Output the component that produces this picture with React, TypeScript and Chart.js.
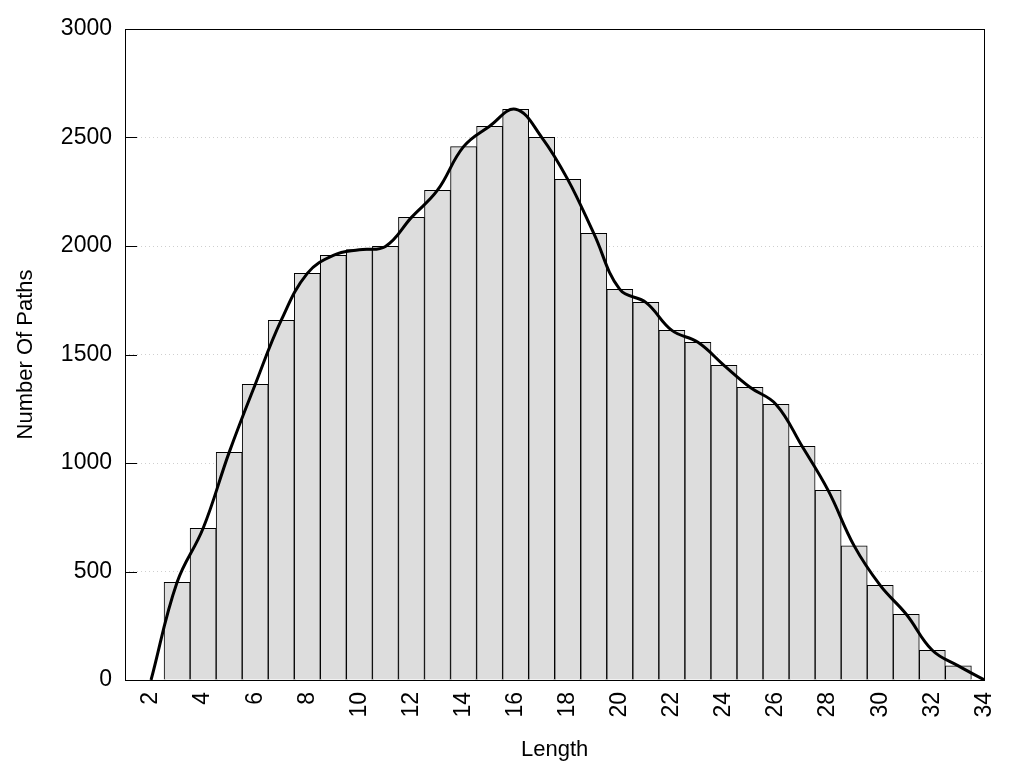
import React, { useEffect, useRef } from "react";
import { Chart, registerables } from "chart.js";

Chart.register(...registerables);

const barLengths: number[] = [3, 4, 5, 6, 7, 8, 9, 10, 11, 12, 13, 14, 15, 16, 17, 18, 19, 20, 21, 22, 23, 24, 25, 26, 27, 28, 29, 30, 31, 32, 33];
const barCounts: number[] = [450, 699, 1049, 1362, 1658, 1874, 1957, 1983, 1998, 2132, 2257, 2458, 2552, 2630, 2501, 2307, 2058, 1800, 1740, 1611, 1556, 1450, 1349, 1270, 1077, 874, 618, 436, 303, 137, 65];
const curveLengths: number[] = [2, ...barLengths, 34];
const curveCounts: number[] = [0, ...barCounts, 0];
const xTickValues: number[] = [2, 4, 6, 8, 10, 12, 14, 16, 18, 20, 22, 24, 26, 28, 30, 32, 34];
const yTickValues: number[] = [0, 500, 1000, 1500, 2000, 2500, 3000];

const FONT = "'Liberation Sans', Arial, sans-serif";

export default function App() {
  const ref = useRef<HTMLCanvasElement | null>(null);

  useEffect(() => {
    document.body.style.margin = "0";
    const canvas = ref.current;
    if (!canvas) return;

    const framePlugin = {
      id: "frameAndTicks",
      afterDatasetsDraw(chart: any) {
        const { ctx, chartArea } = chart;
        const y = chart.scales.y;
        ctx.save();
        ctx.strokeStyle = "#000";
        ctx.lineWidth = 1;
        ctx.beginPath();
        for (const v of yTickValues) {
          const py = Math.round(y.getPixelForValue(v)) + 0.5;
          ctx.moveTo(chartArea.left, py);
          ctx.lineTo(chartArea.left + 12, py);
        }
        ctx.stroke();
        ctx.strokeRect(
          Math.round(chartArea.left) + 0.5,
          Math.round(chartArea.top) + 0.5,
          Math.round(chartArea.right - chartArea.left),
          Math.round(chartArea.bottom - chartArea.top)
        );
        ctx.restore();
      },
    };

    const chart = new Chart(canvas, {
      type: "bar",
      data: {
        datasets: [
          {
            type: "line",
            label: "curve",
            data: curveLengths.map((x, i) => ({ x, y: curveCounts[i] })),
            borderColor: "#000",
            borderWidth: 3,
            pointRadius: 0,
            tension: 0.4,
            fill: false,
            order: 0,
          } as any,
          {
            type: "bar",
            label: "paths",
            data: barLengths.map((x, i) => ({ x, y: barCounts[i] })),
            backgroundColor: "#dddddd",
            borderColor: "#000",
            borderWidth: 1,
            barPercentage: 1,
            categoryPercentage: 1,
            order: 1,
          } as any,
        ],
      },
      options: {
        responsive: false,
        animation: false,
        devicePixelRatio: 1,
        layout: { padding: { top: 29, right: 39, left: 0, bottom: 0 } },
        plugins: {
          legend: { display: false },
          tooltip: { enabled: false },
        },
        scales: {
          x: {
            type: "linear",
            min: 1,
            max: 34,
            offset: false,
            grid: { display: false, offset: false, drawTicks: false },
            border: { display: false },
            afterBuildTicks: (scale: any) => {
              scale.ticks = xTickValues.map((v) => ({ value: v }));
            },
            afterFit: (scale: any) => {
              scale.height = 88;
            },
            ticks: {
              minRotation: 90,
              maxRotation: 90,
              autoSkip: false,
              padding: 12,
              color: "#000",
              font: { family: FONT, size: 23 },
              callback: (v: any) => String(v),
            },
            title: {
              display: true,
              text: "Length",
              color: "#000",
              font: { family: FONT, size: 22 },
              padding: { top: 0, bottom: 5 },
            },
          },
          y: {
            type: "linear",
            min: 0,
            max: 3000,
            grid: {
              color: "#cfcfcf",
              lineWidth: 1,
              drawTicks: false,
            },
            border: { display: false, dash: [1, 3] },
            afterFit: (scale: any) => {
              scale.width = 125;
            },
            afterBuildTicks: (scale: any) => {
              scale.ticks = yTickValues.map((v) => ({ value: v }));
            },
            ticks: {
              padding: 13,
              color: "#000",
              font: { family: FONT, size: 23 },
              callback: (v: any) => String(v),
            },
            title: {
              display: true,
              text: "Number Of Paths",
              color: "#000",
              font: { family: FONT, size: 22 },
              padding: { top: 13, bottom: 0 },
            },
          },
        },
      } as any,
      plugins: [framePlugin],
    });

    return () => chart.destroy();
  }, []);

  return (
    <div style={{ width: 1024, height: 768 }}>
      <canvas ref={ref} width={1024} height={768} style={{ display: "block" }} />
    </div>
  );
}
